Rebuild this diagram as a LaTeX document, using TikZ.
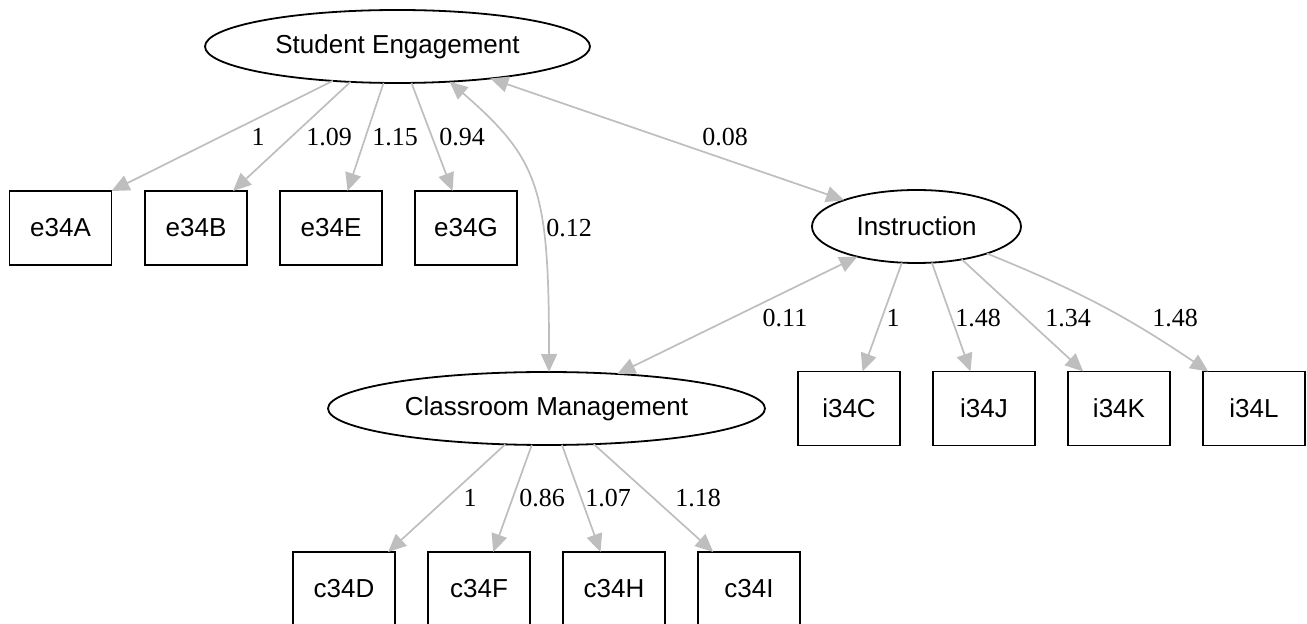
\documentclass[tikz,border=0pt]{standalone}
\usepackage{fontspec}
\setmainfont{Liberation Serif}
\newfontfamily\boxfont{Liberation Sans}
\usetikzlibrary{arrows.meta,shapes.geometric}
\definecolor{edgegray}{HTML}{BEBEBE}

\begin{document}
\begin{tikzpicture}[x=0.5pt,y=0.5pt,
    latent/.style={draw=black, line width=0.9pt, ellipse, inner sep=0pt, outer sep=0pt, minimum height=36.5pt, font=\boxfont\fontsize{13}{15}\selectfont},
    observed/.style={draw=black, line width=0.9pt, rectangle, inner sep=0pt, outer sep=0pt, minimum width=51pt, minimum height=37pt, font=\boxfont\fontsize{13}{15}\selectfont},
    load/.style={draw=edgegray, line width=0.85pt, -{Triangle[length=9pt,width=8pt]}},
    cov/.style={draw=edgegray, line width=0.85pt, {Triangle[length=9pt,width=8pt]}-{Triangle[length=9pt,width=8pt]}},
    coef/.style={inner sep=0pt, font=\fontsize{13}{15}\selectfont}]
    \useasboundingbox (0,0) rectangle (1307,-624);
    \node [latent, minimum width=192.5pt] (eng) at (397.5,-46.5) {Student Engagement};
    \node [latent, minimum width=104.5pt] (ins) at (916.5,-226.5) {Instruction};
    \node [latent, minimum width=218.5pt] (cm) at (546.5,-408.5) {Classroom Management};
    \node [observed] (e34A) at (60.5,-228) {e34A};
    \node [observed] (e34B) at (196,-228) {e34B};
    \node [observed] (e34E) at (331,-228) {e34E};
    \node [observed] (e34G) at (466,-228) {e34G};
    \node [observed] (i34C) at (849,-408.5) {i34C};
    \node [observed] (i34J) at (984,-408.5) {i34J};
    \node [observed] (i34K) at (1119,-408.5) {i34K};
    \node [observed] (i34L) at (1254,-408.5) {i34L};
    \node [observed] (c34D) at (344,-589) {c34D};
    \node [observed] (c34F) at (479,-589) {c34F};
    \node [observed] (c34H) at (614,-589) {c34H};
    \node [observed] (c34I) at (749,-589) {c34I};
    \draw [load] (eng.208) -- (e34A.north east);
    \draw [load] (eng.217.5) -- (e34B.45);
    \draw [load] (eng.249.7) -- (e34E.66.6);
    \draw [load] (eng.291.7) -- (e34G.110.7);
    \draw [cov] (eng.326.2) .. controls (540,-160) and (549,-190) .. (cm.86);
    \draw [cov] (eng.341) -- (ins.160.2);
    \draw [cov] (cm.26.1) -- (ins.207.9);
    \draw [load] (ins.248.9) -- (i34C.70.6);
    \draw [load] (ins.293) -- (i34J.110.7);
    \draw [load] (ins.324.1) -- (i34K.134.2);
    \draw [load] (ins.339.6) to [bend left=6] (i34L.141.8);
    \draw [load] (cm.221.3) -- (c34D.40.7);
    \draw [load] (cm.248.3) -- (c34F.69.3);
    \draw [load] (cm.293) -- (c34H.110.7);
    \draw [load] (cm.323) -- (c34I.134.2);
    \node [coef] (le34A) at (258,-137) {1};
    \node [coef] (le34B) at (329,-137) {1.09};
    \node [coef] (le34E) at (395,-137) {1.15};
    \node [coef] (le34G) at (462,-137) {0.94};
    \node [coef] (lengcm) at (569,-228) {0.12};
    \node [coef] (lengins) at (725,-137) {0.08};
    \node [coef] (lcmins) at (785,-318) {0.11};
    \node [coef] (li34C) at (893,-318) {1};
    \node [coef] (li34J) at (978,-318) {1.48};
    \node [coef] (li34K) at (1068,-318) {1.34};
    \node [coef] (li34L) at (1175,-318) {1.48};
    \node [coef] (lc34D) at (470,-498) {1};
    \node [coef] (lc34F) at (542,-498) {0.86};
    \node [coef] (lc34H) at (608,-498) {1.07};
    \node [coef] (lc34I) at (698,-498) {1.18};
\end{tikzpicture}
\end{document}
